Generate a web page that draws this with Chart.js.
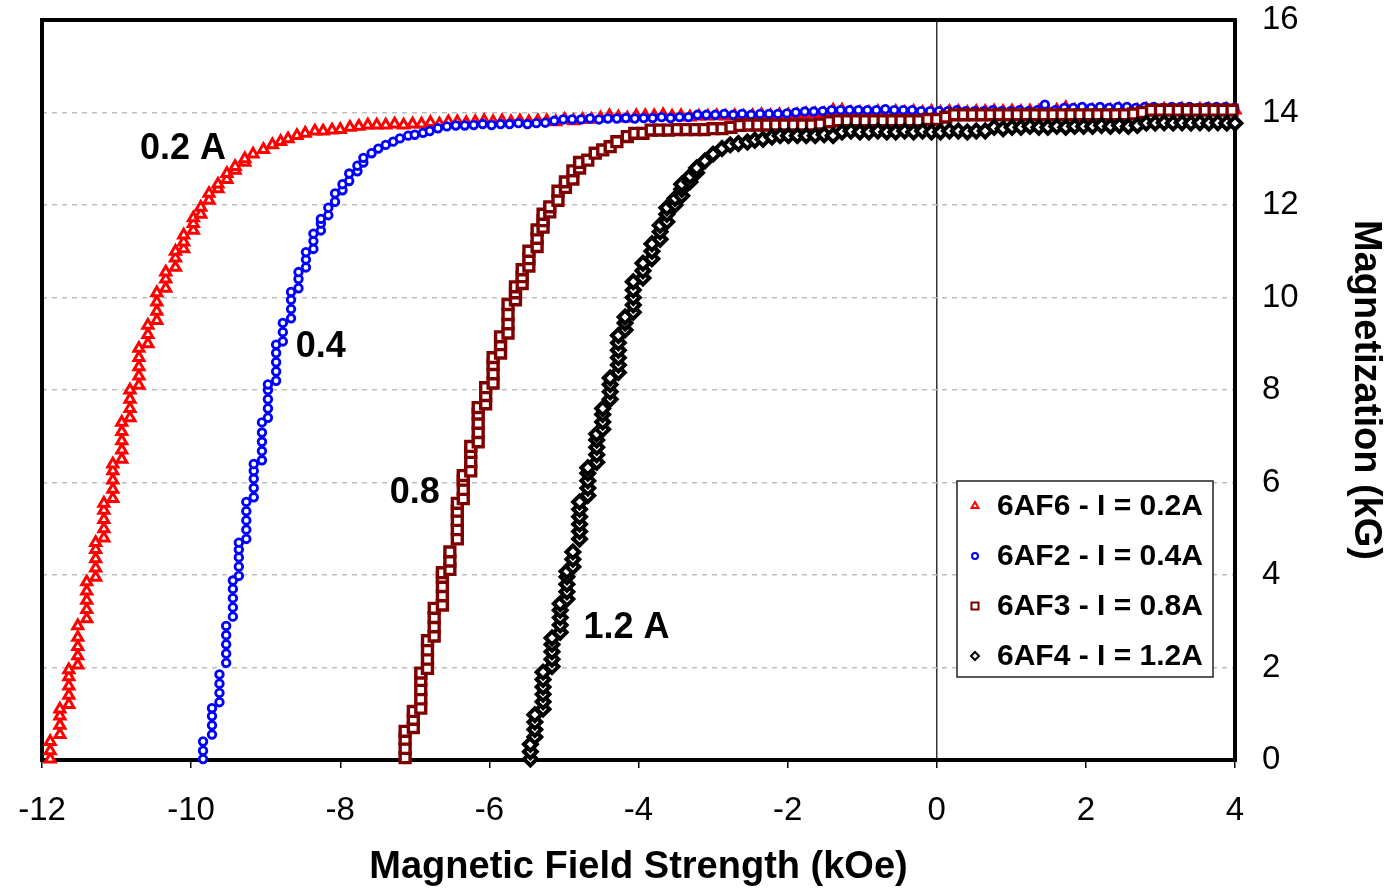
<!DOCTYPE html>
<html>
<head>
<meta charset="utf-8">
<script src="https://cdn.jsdelivr.net/npm/chart.js"></script>
<style>
  body { margin: 0; background: #fff; }
  #wrap { width: 1389px; height: 890px; }
</style>
</head>
<body>
<div id="wrap"><canvas id="chart" width="1389" height="890"></canvas></div>
<script>
// values: [field kOe, magnetization kG]
const red02 = [
  [-11.89,0.02],[-11.89,0.2],[-11.89,0.4],
  [-11.76,0.55],[-11.76,0.75],[-11.76,0.95],[-11.76,1.1],
  [-11.64,1.2],[-11.64,1.4],[-11.64,1.6],[-11.64,1.8],[-11.64,1.95],
  [-11.52,2.05],[-11.52,2.25],[-11.52,2.45],[-11.52,2.65],[-11.52,2.9],
  [-11.4,3.05],[-11.4,3.25],[-11.4,3.45],[-11.4,3.65],[-11.4,3.85],
  [-11.28,3.95],[-11.28,4.15],[-11.28,4.35],[-11.28,4.55],[-11.28,4.7],
  [-11.17,4.8],[-11.17,5.0],[-11.17,5.2],[-11.17,5.4],[-11.17,5.55],
  [-11.05,5.65],[-11.05,5.85],[-11.05,6.05],[-11.05,6.25],[-11.05,6.4],
  [-10.93,6.5],[-10.93,6.7],[-10.93,6.9],[-10.93,7.1],[-10.93,7.3],
  [-10.82,7.4],[-10.82,7.6],[-10.82,7.8],[-10.82,8.0],
  [-10.7,8.1],[-10.7,8.3],[-10.7,8.5],[-10.7,8.7],[-10.7,8.9],
  [-10.58,9.0],[-10.58,9.2],[-10.58,9.4],
  [-10.46,9.5],[-10.46,9.7],[-10.46,9.9],[-10.46,10.1],
  [-10.34,10.2],[-10.34,10.4],[-10.34,10.55],
  [-10.21,10.65],[-10.21,10.85],[-10.21,11.0],
  [-10.1,11.05],[-10.1,11.2],[-10.1,11.35],
  [-9.97,11.45],[-9.97,11.6],[-9.97,11.72],
  [-9.87,11.8],[-9.87,11.95],[-9.76,12.1],[-9.76,12.25],
  [-9.64,12.35],[-9.64,12.45],[-9.52,12.55],[-9.52,12.68],
  [-9.41,12.75],[-9.41,12.83],[-9.28,12.92],[-9.28,13.0],
  [-9.17,13.1],[-9.03,13.2],[-8.91,13.3],[-8.8,13.37],[-8.7,13.43],
  [-8.58,13.5],[-8.47,13.55],[-8.34,13.6],[-8.23,13.6],[-8.11,13.62],
  [-8.0,13.63],[-7.87,13.68],[-7.75,13.7],
  [-7.63,13.73],[-7.51,13.73],[-7.39,13.73],[-7.27,13.75],[-7.15,13.73],
  [-7.03,13.75],[-6.91,13.75],[-6.79,13.78],[-6.67,13.75],[-6.55,13.8],
  [-6.43,13.8],[-6.31,13.78],[-6.19,13.8],[-6.07,13.82],[-5.95,13.8],
  [-5.83,13.82],[-5.71,13.8],[-5.59,13.82],[-5.47,13.8],[-5.35,13.82],
  [-5.23,13.82],[-5.11,13.8],[-4.99,13.85],[-4.87,13.82],[-4.75,13.85],
  [-4.63,13.85],[-4.51,13.88],[-4.39,13.93],[-4.27,13.9],[-4.15,13.88],
  [-4.03,13.93],[-3.91,13.93],[-3.79,13.93],[-3.67,13.95],[-3.55,13.92],
  [-3.43,13.93],[-3.31,13.9],[-3.19,13.92],[-3.07,13.92],[-2.95,13.93],
  [-2.83,13.92],[-2.71,13.93],[-2.59,13.92],[-2.47,13.93],[-2.35,13.95],
  [-2.23,13.93],[-2.11,13.95],[-1.99,13.95],[-1.87,13.95],[-1.75,13.97],
  [-1.63,13.97],[-1.51,13.98],[-1.39,14.05],[-1.27,14.05],[-1.15,14.0],
  [-1.03,14.0],[-0.91,14.0],[-0.79,14.02],[-0.67,14.0],[-0.55,14.02],
  [-0.43,14.0],[-0.31,14.02],[-0.19,14.0],[-0.07,14.02],[0.05,14.0],
  [0.17,14.02],[0.29,14.02],[0.41,14.0],[0.53,14.02],[0.65,14.02],
  [0.77,14.03],[0.89,14.02],[1.01,14.03],[1.13,14.02],[1.25,14.03],
  [1.37,14.03],[1.49,14.03],[1.61,14.05],[1.73,14.1],[1.85,14.05],
  [1.97,14.05],[2.09,14.05],[2.21,14.05],[2.33,14.05],[2.45,14.07],
  [2.57,14.05],[2.69,14.05],[2.81,14.07],[2.93,14.05],[3.05,14.07],
  [3.17,14.05],[3.29,14.07],[3.41,14.05],[3.53,14.07],[3.65,14.07],
  [3.77,14.05],[3.89,14.07],[4.0,14.05]
];

const blue04 = [
  [-9.84,0.02],[-9.84,0.2],[-9.84,0.4],
  [-9.72,0.55],[-9.72,0.75],[-9.72,0.95],[-9.72,1.12],
  [-9.62,1.25],[-9.62,1.45],[-9.62,1.65],[-9.62,1.85],
  [-9.53,2.1],[-9.53,2.3],[-9.53,2.5],[-9.53,2.7],[-9.53,2.9],
  [-9.44,3.1],[-9.44,3.3],[-9.44,3.5],[-9.44,3.7],[-9.44,3.88],
  [-9.36,3.98],[-9.36,4.18],[-9.36,4.38],[-9.36,4.55],[-9.36,4.7],
  [-9.26,4.78],[-9.26,4.98],[-9.26,5.18],[-9.26,5.38],[-9.26,5.58],
  [-9.16,5.68],[-9.16,5.88],[-9.16,6.08],[-9.16,6.25],[-9.16,6.4],
  [-9.05,6.48],[-9.05,6.68],[-9.05,6.88],[-9.05,7.08],[-9.05,7.3],
  [-8.97,7.4],[-8.97,7.6],[-8.97,7.8],[-8.97,8.0],[-8.97,8.12],
  [-8.86,8.2],[-8.86,8.4],[-8.86,8.6],[-8.86,8.8],[-8.86,8.98],
  [-8.77,9.05],[-8.77,9.25],[-8.77,9.45],
  [-8.66,9.55],[-8.66,9.75],[-8.66,9.95],[-8.66,10.12],
  [-8.56,10.2],[-8.56,10.4],[-8.56,10.55],
  [-8.46,10.65],[-8.46,10.82],[-8.46,10.98],
  [-8.36,11.05],[-8.36,11.22],[-8.36,11.38],
  [-8.26,11.45],[-8.26,11.6],[-8.26,11.7],
  [-8.16,11.78],[-8.16,11.94],[-8.07,12.07],[-8.07,12.25],
  [-7.97,12.32],[-7.97,12.45],[-7.88,12.52],[-7.88,12.68],
  [-7.77,12.73],[-7.77,12.85],[-7.69,12.92],[-7.69,13.02],
  [-7.58,13.12],[-7.49,13.22],[-7.39,13.3],[-7.29,13.37],[-7.2,13.44],
  [-7.09,13.5],[-7.0,13.52],[-6.89,13.56],[-6.8,13.6],[-6.69,13.66],
  [-6.57,13.7],
  [-6.45,13.72],[-6.33,13.72],[-6.21,13.73],[-6.09,13.75],[-5.97,13.73],
  [-5.85,13.75],[-5.73,13.75],[-5.61,13.77],[-5.49,13.75],[-5.37,13.77],
  [-5.25,13.78],[-5.13,13.82],[-5.01,13.85],[-4.89,13.85],[-4.77,13.85],
  [-4.65,13.87],[-4.53,13.85],[-4.41,13.87],[-4.29,13.87],[-4.17,13.88],
  [-4.05,13.87],[-3.93,13.88],[-3.81,13.88],[-3.69,13.9],[-3.57,13.88],
  [-3.45,13.9],[-3.33,13.9],[-3.21,13.95],[-3.09,13.95],[-2.97,13.95],
  [-2.85,13.97],[-2.73,13.95],[-2.61,13.97],[-2.49,13.95],[-2.37,13.97],
  [-2.25,13.97],[-2.13,13.97],[-2.01,13.98],[-1.89,14.0],[-1.77,14.02],
  [-1.65,14.02],[-1.53,14.03],[-1.41,14.05],[-1.29,14.05],[-1.17,14.05],
  [-1.05,14.05],[-0.93,14.05],[-0.81,14.05],[-0.69,14.07],[-0.57,14.05],
  [-0.45,14.05],[-0.33,14.05],[-0.21,14.03],[-0.09,14.03],[0.03,14.03],
  [0.15,14.03],[0.27,14.05],[0.39,14.03],[0.51,14.03],[0.63,14.03],
  [0.75,14.05],[0.87,14.03],[0.99,14.03],[1.11,14.05],[1.23,14.03],
  [1.35,14.05],[1.45,14.17],[1.59,14.05],[1.71,14.1],[1.83,14.1],
  [1.95,14.12],[2.07,14.1],[2.19,14.12],[2.31,14.1],[2.43,14.12],
  [2.55,14.12],[2.67,14.1],[2.79,14.12],[2.91,14.12],[3.03,14.1],
  [3.15,14.12],[3.27,14.12],[3.39,14.12],[3.51,14.1],[3.63,14.12],
  [3.75,14.12],[3.87,14.12],[3.99,14.1]
];

const dred08 = [
  [-7.13,0.05],[-7.13,0.25],[-7.13,0.45],[-7.13,0.62],
  [-7.02,0.7],[-7.02,0.88],[-7.02,1.05],
  [-6.92,1.12],[-6.92,1.32],[-6.92,1.52],[-6.92,1.72],[-6.92,1.88],
  [-6.83,1.98],[-6.83,2.18],[-6.83,2.38],[-6.83,2.58],
  [-6.74,2.68],[-6.74,2.88],[-6.74,3.08],[-6.74,3.28],
  [-6.63,3.35],[-6.63,3.55],[-6.63,3.75],[-6.63,3.95],[-6.63,4.05],
  [-6.53,4.12],[-6.53,4.3],[-6.53,4.5],
  [-6.43,4.78],[-6.43,4.98],[-6.43,5.18],[-6.43,5.38],[-6.43,5.55],
  [-6.35,5.65],[-6.35,5.85],[-6.35,6.05],[-6.35,6.15],
  [-6.25,6.25],[-6.25,6.45],[-6.25,6.65],[-6.25,6.78],
  [-6.15,6.88],[-6.15,7.08],[-6.15,7.28],[-6.15,7.48],[-6.15,7.62],
  [-6.05,7.7],[-6.05,7.88],[-6.05,8.05],
  [-5.95,8.15],[-5.95,8.35],[-5.95,8.55],[-5.95,8.7],
  [-5.85,8.8],[-5.85,8.98],[-5.85,9.15],
  [-5.75,9.23],[-5.75,9.43],[-5.75,9.63],[-5.75,9.85],
  [-5.65,9.95],[-5.65,10.1],[-5.65,10.23],
  [-5.56,10.3],[-5.56,10.45],[-5.56,10.6],
  [-5.47,10.68],[-5.47,10.84],[-5.47,11.0],
  [-5.36,11.1],[-5.36,11.28],[-5.36,11.46],
  [-5.28,11.52],[-5.28,11.66],[-5.28,11.8],
  [-5.19,11.85],[-5.19,11.96],[-5.08,12.1],[-5.08,12.3],
  [-4.98,12.38],[-4.98,12.5],[-4.88,12.56],[-4.88,12.74],
  [-4.79,12.8],[-4.79,12.92],[-4.68,12.97],[-4.58,13.12],
  [-4.48,13.19],[-4.38,13.26],[-4.29,13.37],[-4.15,13.48],
  [-4.05,13.55],[-3.94,13.55],[-3.83,13.62],
  [-3.72,13.62],[-3.6,13.62],[-3.48,13.63],[-3.36,13.63],[-3.24,13.63],
  [-3.12,13.63],[-3.0,13.65],[-2.88,13.65],[-2.76,13.68],[-2.64,13.72],
  [-2.52,13.73],[-2.4,13.73],[-2.28,13.73],[-2.16,13.73],[-2.04,13.73],
  [-1.92,13.73],[-1.8,13.73],[-1.68,13.73],[-1.56,13.75],[-1.44,13.8],
  [-1.32,13.82],[-1.2,13.82],[-1.08,13.82],[-0.96,13.82],[-0.84,13.82],
  [-0.72,13.82],[-0.6,13.82],[-0.48,13.82],[-0.36,13.82],[-0.24,13.82],
  [-0.12,13.85],[0.0,13.85],[0.12,13.9],[0.24,13.95],[0.36,13.95],
  [0.48,13.95],[0.6,13.95],[0.72,13.95],[0.84,13.95],[0.96,13.95],
  [1.08,13.95],[1.2,13.95],[1.32,13.95],[1.44,13.95],[1.56,13.95],
  [1.68,13.95],[1.8,13.95],[1.92,13.95],[2.04,13.95],[2.16,13.95],
  [2.28,13.95],[2.4,13.95],[2.52,13.95],[2.64,13.97],[2.76,14.0],
  [2.88,14.05],[3.0,14.05],[3.12,14.05],[3.24,14.05],[3.36,14.05],
  [3.48,14.05],[3.6,14.05],[3.72,14.05],[3.84,14.05],[3.96,14.05]
];

const black12 = [
  [-5.45,0.02],[-5.45,0.18],[-5.45,0.34],
  [-5.39,0.5],[-5.39,0.66],[-5.39,0.82],[-5.39,0.98],
  [-5.28,1.1],[-5.28,1.26],[-5.28,1.42],[-5.28,1.58],[-5.28,1.74],[-5.28,1.9],
  [-5.16,2.02],[-5.16,2.18],[-5.16,2.34],[-5.16,2.5],[-5.16,2.64],
  [-5.05,2.76],[-5.05,2.92],[-5.05,3.08],[-5.05,3.24],[-5.05,3.38],
  [-4.96,3.48],[-4.96,3.64],[-4.96,3.8],[-4.96,3.96],[-4.96,4.08],
  [-4.88,4.18],[-4.88,4.34],[-4.88,4.5],
  [-4.79,4.78],[-4.79,4.94],[-4.79,5.1],[-4.79,5.26],[-4.79,5.42],[-4.79,5.58],
  [-4.68,5.72],[-4.68,5.88],[-4.68,6.04],[-4.68,6.2],[-4.68,6.32],
  [-4.56,6.44],[-4.56,6.6],[-4.56,6.76],[-4.56,6.92],[-4.56,7.05],
  [-4.48,7.15],[-4.48,7.31],[-4.48,7.47],[-4.48,7.6],
  [-4.38,7.8],[-4.38,7.96],[-4.38,8.12],[-4.38,8.26],
  [-4.27,8.38],[-4.27,8.54],[-4.27,8.7],[-4.27,8.86],[-4.27,9.02],[-4.27,9.18],
  [-4.18,9.3],[-4.18,9.45],[-4.18,9.58],
  [-4.07,9.68],[-4.07,9.84],[-4.07,10.0],[-4.07,10.16],[-4.07,10.34],
  [-3.94,10.42],[-3.94,10.58],[-3.94,10.74],
  [-3.82,10.84],[-3.82,11.0],[-3.82,11.16],
  [-3.71,11.26],[-3.71,11.42],[-3.71,11.56],
  [-3.62,11.64],[-3.62,11.8],[-3.62,11.94],
  [-3.51,12.0],[-3.51,12.14],[-3.42,12.2],[-3.42,12.34],[-3.42,12.45],
  [-3.31,12.5],[-3.31,12.62],[-3.22,12.7],[-3.22,12.8],
  [-3.11,12.95],[-3.0,13.1],[-2.88,13.22],[-2.77,13.3],[-2.66,13.33],
  [-2.54,13.36],[-2.44,13.4],[-2.33,13.42],[-2.21,13.47],[-2.1,13.5],
  [-1.99,13.5],
  [-1.87,13.5],[-1.75,13.5],[-1.63,13.5],[-1.51,13.52],[-1.39,13.5],
  [-1.27,13.58],[-1.15,13.6],[-1.03,13.58],[-0.91,13.58],[-0.79,13.6],
  [-0.67,13.58],[-0.55,13.58],[-0.43,13.6],[-0.31,13.58],[-0.19,13.6],
  [-0.07,13.58],[0.05,13.58],[0.17,13.6],[0.29,13.6],[0.41,13.58],
  [0.53,13.6],[0.65,13.6],[0.77,13.68],[0.89,13.65],[1.01,13.68],
  [1.13,13.68],[1.25,13.7],[1.37,13.68],[1.49,13.68],[1.61,13.7],
  [1.73,13.68],[1.85,13.7],[1.97,13.7],[2.09,13.7],[2.21,13.72],
  [2.33,13.7],[2.45,13.72],[2.57,13.7],[2.69,13.72],[2.81,13.77],
  [2.93,13.77],[3.05,13.78],[3.17,13.77],[3.29,13.78],[3.41,13.77],
  [3.53,13.78],[3.65,13.77],[3.77,13.78],[3.89,13.77],[4.0,13.77]
];

const seriesNames = ['6AF6 - I = 0.2A', '6AF2 - I = 0.4A', '6AF3 - I = 0.8A', '6AF4 - I = 1.2A'];
const curveLabels = ['0.2 A', '0.4', '0.8', '1.2 A'];
const curveLabelX = [-10.11, -8.26, -7.0, -4.16];
const curveLabelY = [13.2, 8.93, 5.77, 2.85];

const FONT = "'Liberation Sans', Arial, sans-serif";
Chart.defaults.font.family = FONT;

const toPts = arr => arr.map(p => ({ x: p[0], y: p[1] }));

const styles = [
  { color: '#ff0000', shape: 'triangle', r: 5.8, bw: 3, lr: 4 },
  { color: '#0000ff', shape: 'circle', r: 3.8, bw: 2.8, lr: 3 },
  { color: '#7f0000', shape: 'rect', r: 7, bw: 3.4, lr: 5 },
  { color: '#000000', shape: 'rectRot', r: 6.4, bw: 4, lr: 4 }
];
const allData = [red02, blue04, dred08, black12];

const datasets = allData.map((d, i) => ({
  label: seriesNames[i],
  data: toPts(d),
  showLine: false,
  pointStyle: styles[i].shape,
  pointRadius: styles[i].r,
  pointBorderWidth: styles[i].bw,
  pointBorderColor: styles[i].color,
  pointBackgroundColor: '#ffffff',
  borderColor: styles[i].color,
  backgroundColor: '#ffffff',
  order: 4 - i,
  clip: false
}));

// plot frame, drawn under the markers
const framePlugin = {
  id: 'frame',
  beforeDatasetsDraw(chart) {
    const { ctx, chartArea: a } = chart;
    ctx.save();
    ctx.strokeStyle = '#000';
    ctx.lineWidth = 4;
    ctx.strokeRect(a.left, a.top, a.right - a.left, a.bottom - a.top);
    ctx.restore();
  }
};

// curve labels and boxed legend
const overlayPlugin = {
  id: 'overlay',
  afterDraw(chart) {
    const { ctx, chartArea: a, scales } = chart;
    ctx.save();
    ctx.fillStyle = '#000';
    ctx.font = 'bold 36px ' + FONT;
    ctx.textAlign = 'center';
    ctx.textBaseline = 'middle';
    curveLabels.forEach((t, i) => {
      ctx.fillText(t, scales.x.getPixelForValue(curveLabelX[i]), scales.y.getPixelForValue(curveLabelY[i]));
    });

    const bx = a.right - 278, by = a.bottom - 279, bw = 256, bh = 196;
    ctx.fillStyle = '#fff';
    ctx.fillRect(bx, by, bw, bh);
    ctx.strokeStyle = '#222';
    ctx.lineWidth = 1.5;
    ctx.strokeRect(bx, by, bw, bh);
    ctx.font = 'bold 30px ' + FONT;
    ctx.textAlign = 'left';
    seriesNames.forEach((t, i) => {
      const y = by + 25 + i * 50;
      const s = styles[i];
      ctx.strokeStyle = s.color;
      ctx.fillStyle = '#fff';
      ctx.lineWidth = 2;
      Chart.helpers.drawPoint(ctx, { pointStyle: s.shape, radius: s.lr, borderWidth: 2, rotation: 0 }, bx + 18, y);
      ctx.fillStyle = '#000';
      ctx.fillText(t, bx + 40, y + 1);
    });
    ctx.restore();
  }
};

new Chart(document.getElementById('chart'), {
  type: 'scatter',
  data: { datasets },
  options: {
    responsive: false,
    animation: false,
    layout: { padding: { left: 42, top: 20, right: 0, bottom: 0 } },
    plugins: { legend: { display: false }, tooltip: { enabled: false } },
    scales: {
      x: {
        type: 'linear', min: -12, max: 4,
        ticks: { stepSize: 2, color: '#000', font: { size: 33 }, padding: 23 },
        grid: {
          color: c => (c.tick && c.tick.value === 0 ? '#333' : 'rgba(0,0,0,0)'),
          lineWidth: 1.5, tickColor: '#000', tickLength: 8, tickWidth: 1.5
        },
        border: { display: false },
        title: {
          display: true, text: 'Magnetic Field Strength (kOe)', color: '#000',
          font: { size: 38, weight: 'bold' }, padding: { top: 1, bottom: 0 }
        },
        afterFit: s => { s.height = 130; s.paddingLeft = 0; s.paddingRight = 0; }
      },
      y: {
        position: 'right', min: 0, max: 16,
        ticks: { stepSize: 2, color: '#000', font: { size: 33 }, padding: 27 },
        grid: {
          color: c => (c.tick && (c.tick.value === 0 || c.tick.value === 16) ? 'rgba(0,0,0,0)' : '#bdbdbd'),
          lineWidth: 1.5, drawTicks: false
        },
        border: { display: false, dash: [5, 5] },
        title: {
          display: true, text: 'Magnetization (kG)', color: '#000',
          font: { size: 38, weight: 'bold' }, padding: { top: 1, bottom: 0 }
        },
        afterFit: s => { s.width = 154; s.paddingTop = 0; s.paddingBottom = 0; }
      }
    }
  },
  plugins: [framePlugin, overlayPlugin]
});
</script>
</body>
</html>
